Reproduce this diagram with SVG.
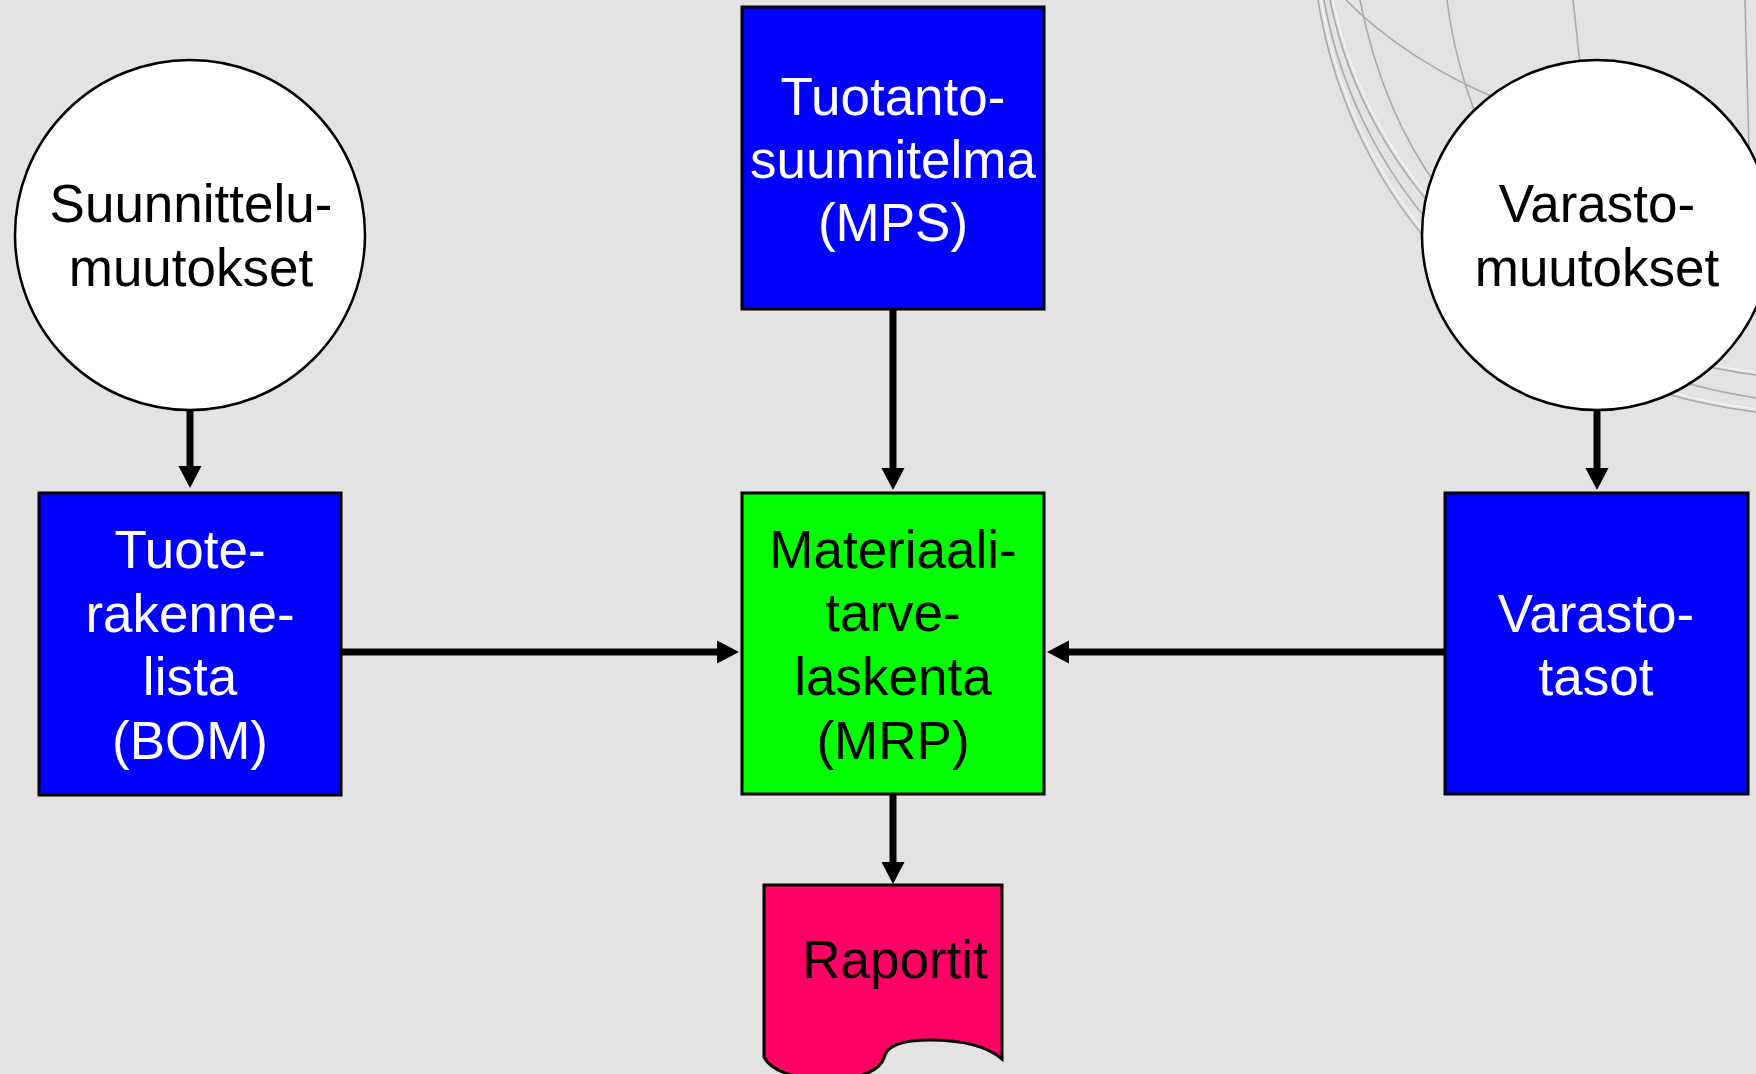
<svg xmlns="http://www.w3.org/2000/svg" width="1756" height="1074" viewBox="0 0 1756 1074">
  <style>
    .lbl { font-family: "Liberation Sans", Arial, sans-serif; font-size: 53px; text-anchor: middle; }
    .light { fill: #ffffff; }
    .dark { fill: #000000; }
    .box { stroke: #000000; stroke-width: 3; }
    .circ { fill: #ffffff; stroke: #000000; stroke-width: 2.5; }
    .conn { stroke: #000000; stroke-width: 7; fill: none; marker-end: url(#head); }
    .globe { fill: none; stroke: #a9a9a9; stroke-width: 1.6; }
    .globe-hi { fill: none; stroke: #f6f6f6; stroke-width: 1.2; }
  </style>
  <defs>
    <marker id="head" markerUnits="userSpaceOnUse" markerWidth="23" markerHeight="24" refX="0" refY="12" orient="auto">
      <path d="M0,0.5 L22,12 L0,23.5 Z" fill="#000000"/>
    </marker>
  </defs>

  <!-- slide background -->
  <rect x="0" y="0" width="1756" height="1074" fill="#e3e3e3"/>

  <!-- faint globe wireframe in the upper right corner -->
  <g id="globe">
    <path class="globe" d="M1318,0 C1350,200 1500,380 1756,412"/>
    <path class="globe-hi" d="M1321,0 C1353,198 1503,378 1756,409"/>
    <path class="globe" d="M1324,0 C1358,190 1510,360 1756,398"/>
    <path class="globe" d="M1330,0 C1366,180 1520,345 1756,375"/>
    <path class="globe-hi" d="M1333,0 C1369,178 1523,343 1756,372"/>
    <path class="globe" d="M1346,0 C1385,40 1440,75 1500,100"/>
    <path class="globe" d="M1360,0 C1372,60 1395,130 1440,190"/>
    <path class="globe" d="M1447,0 C1452,40 1462,80 1478,120"/>
    <path class="globe" d="M1573,0 L1580,64"/>
    <path class="globe" d="M1745,0 L1749,150"/>
  </g>

  <!-- connectors -->
  <g id="connectors">
    <line class="conn" x1="190" y1="410" x2="190" y2="466"/>
    <line class="conn" x1="893" y1="309" x2="893" y2="468"/>
    <line class="conn" x1="1597" y1="410" x2="1597" y2="468"/>
    <line class="conn" x1="341" y1="652" x2="717" y2="652"/>
    <line class="conn" x1="1445" y1="652" x2="1069" y2="652"/>
    <line class="conn" x1="893" y1="794" x2="893" y2="862"/>
  </g>

  <g id="suunnittelumuutokset">
    <circle class="circ" cx="190" cy="235" r="175"/>
    <text class="lbl dark" x="191" y="222">Suunnittelu-</text>
    <text class="lbl dark" x="191" y="286">muutokset</text>
  </g>

  <g id="tuotantosuunnitelma">
    <rect class="box" x="742" y="7" width="302" height="302" fill="#0000ff"/>
    <text class="lbl light" x="893" y="115">Tuotanto-</text>
    <text class="lbl light" x="893" y="178">suunnitelma</text>
    <text class="lbl light" x="893" y="241">(MPS)</text>
  </g>

  <g id="varastomuutokset">
    <circle class="circ" cx="1597" cy="235" r="175"/>
    <text class="lbl dark" x="1597" y="222">Varasto-</text>
    <text class="lbl dark" x="1597" y="286">muutokset</text>
  </g>

  <g id="tuoterakennelista">
    <rect class="box" x="39" y="493" width="302" height="302" fill="#0000ff"/>
    <text class="lbl light" x="190" y="568">Tuote-</text>
    <text class="lbl light" x="190" y="632">rakenne-</text>
    <text class="lbl light" x="190" y="695">lista</text>
    <text class="lbl light" x="190" y="759">(BOM)</text>
  </g>

  <g id="mrp">
    <rect class="box" x="742" y="493" width="302" height="301" fill="#00ff00"/>
    <text class="lbl dark" x="893" y="568">Materiaali-</text>
    <text class="lbl dark" x="893" y="631">tarve-</text>
    <text class="lbl dark" x="893" y="695">laskenta</text>
    <text class="lbl dark" x="893" y="759">(MRP)</text>
  </g>

  <g id="varastotasot">
    <rect class="box" x="1445" y="493" width="303" height="301" fill="#0000ff"/>
    <text class="lbl light" x="1596" y="632">Varasto-</text>
    <text class="lbl light" x="1596" y="695">tasot</text>
  </g>

  <g id="raportit">
    <path class="box" fill="#ff0066" d="M764,885 H1002 V1059 C988,1047 965,1040 930,1040 C900,1040 886,1046 884,1058 C880,1070 860,1080 828,1080 C796,1080 770,1070 764,1057 Z"/>
    <text class="lbl dark" x="895" y="978">Raportit</text>
  </g>
</svg>
